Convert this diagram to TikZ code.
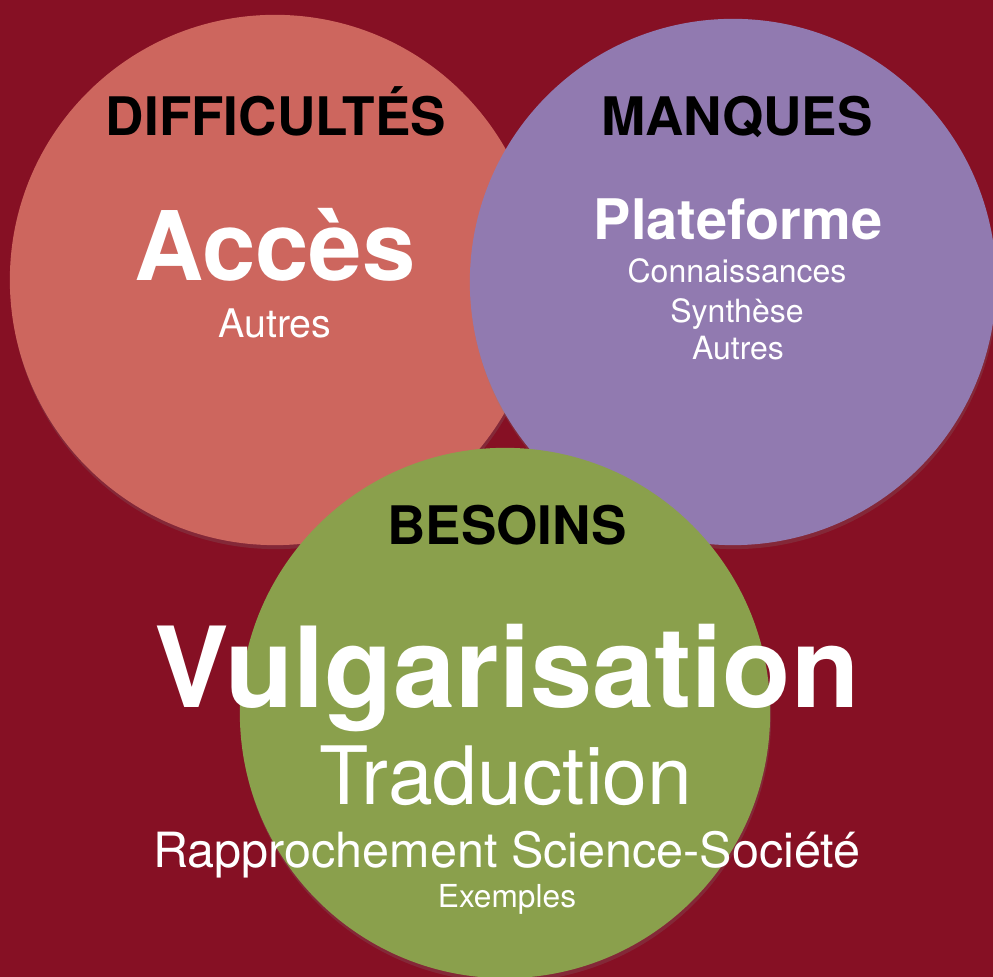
\documentclass[tikz,border=0pt]{standalone}
\usepackage{fontspec}
\setmainfont{TeX Gyre Heros}
\usepackage{xcolor}
\usetikzlibrary{shadows}

\definecolor{bgred}{RGB}{134,16,36}
\definecolor{salmon}{RGB}{205,102,94}
\definecolor{lilac}{RGB}{145,122,176}
\definecolor{olive}{RGB}{138,160,76}

\newcommand{\fsz}[1]{\fontsize{#1}{#1}\selectfont}

\tikzset{
  blob/.style={circle, minimum size=5.3cm, inner sep=0pt,
    drop shadow={shadow xshift=0.01cm, shadow yshift=-0.04cm, opacity=0.22}},
  head/.style={anchor=base, text=black, font=\fsz{15.1pt}\bfseries},
  word/.style={anchor=base, text=white}
}

\begin{document}
\begin{tikzpicture}[x=0.01cm, y=-0.01cm]
        \clip (0,0) rectangle (993,977);
        \fill[bgred] (0,0) rectangle (993,977);
        \useasboundingbox (0,0) rectangle (993,977);
        % the three circles
        \node[blob, fill=salmon] (diff) at (275,280) {};
        \node[blob, fill=lilac, minimum size=5.26cm] (manq) at (733,282) {};
        \node[blob, fill=olive] (bes) at (505,713) {};
        % difficultes
        \node[head] (diffT) at (276,136) {DIFFICULTÉS};
        \node[word, font=\fsz{27.3pt}\bfseries] (acces) at (275,281) {Accès};
        \node[word, font=\fsz{11.2pt}] (autresA) at (275,338) {Autres};
        % manques
        \node[head] (manqT) at (737,136) {MANQUES};
        \node[word, font=\fsz{15.9pt}\bfseries] (plat) at (738,240) {Plateforme};
        \node[word, font=\fsz{9.1pt}] (conn) at (737,283) {Connaissances};
        \node[word, font=\fsz{9.1pt}] (synth) at (737,323) {Synthèse};
        \node[word, font=\fsz{9.1pt}] (autresB) at (738,360) {Autres};
        % besoins
        \node[head] (besT) at (507,545) {BESOINS};
        \node[word, font=\fsz{31.8pt}\bfseries] (vulg) at (507,708) {Vulgarisation};
        \node[word, font=\fsz{22.9pt}] (trad) at (506,805) {Traduction};
        \node[word, font=\fsz{13.8pt}] (rappr) at (507,868) {Rapprochement Science-Société};
        \node[word, font=\fsz{9pt}] (ex) at (507,908) {Exemples};
    \end{tikzpicture}
\end{document}
